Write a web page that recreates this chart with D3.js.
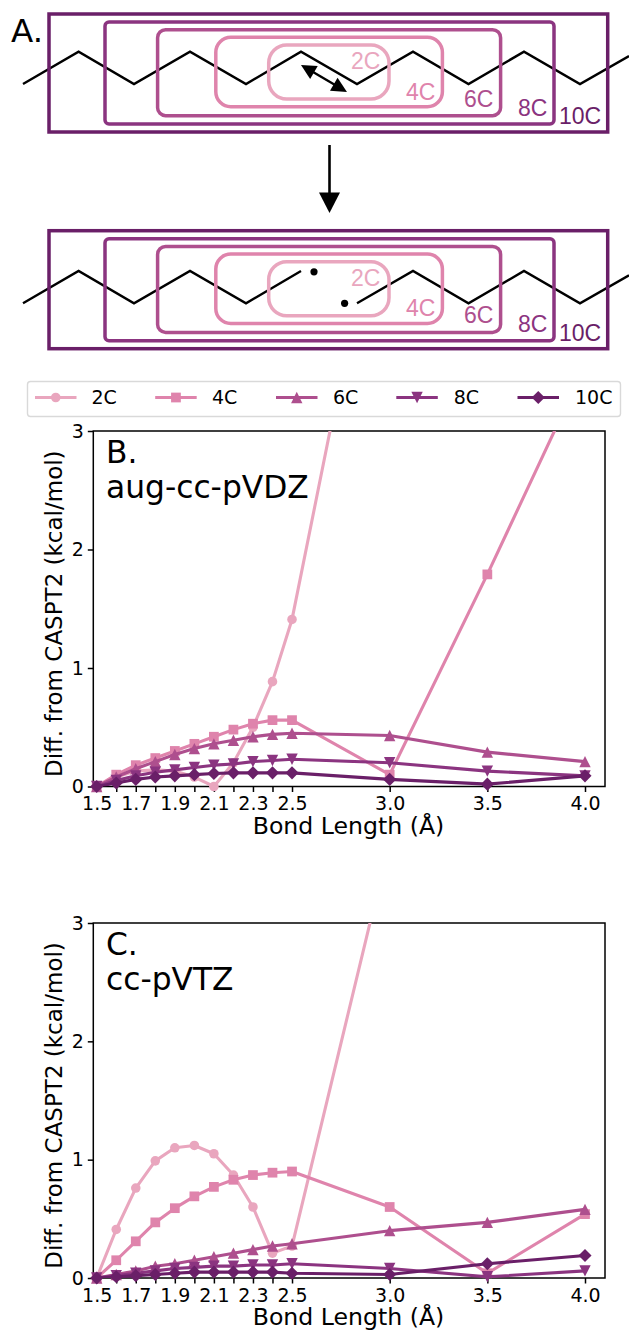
<!DOCTYPE html>
<html><head><meta charset="utf-8">
<style>html,body{margin:0;padding:0;background:#fff}svg{display:block}text{font-family:"DejaVu Sans",sans-serif;fill:#000}</style>
<script src="https://cdnjs.cloudflare.com/ajax/libs/d3/7.8.5/d3.min.js"></script>
</head><body><svg id="c" width="629" height="1332"></svg>
<script>
const bondLengths=[1.5,1.6,1.7,1.8,1.9,2.0,2.1,2.2,2.3,2.4,2.5,3.0,3.5,4.0];
const xTickLabels=[1.5,1.7,1.9,2.1,2.3,2.5,3.0,3.5,4.0];
const yTicks=[0,1,2,3];
const seriesNames=["2C","4C","6C","8C","10C"];
const seriesColors=["#e9a6be","#df84ac","#ae4f8e","#8b3480","#6a1f68"];
const b2C=[0,.08,.13,.14,.13,.08,0,.2,.5,.885,1.41,5.5,9,12];
const b4C=[0,.1,.18,.24,.3,.36,.42,.48,.53,.56,.56,.1,1.79,3.55];
const b6C=[0,.08,.15,.21,.27,.32,.36,.39,.42,.44,.45,.43,.29,.21];
const b8C=[0,.05,.09,.12,.14,.16,.18,.19,.21,.22,.23,.2,.13,.09];
const b10C=[0,.03,.06,.08,.09,.1,.11,.115,.115,.115,.115,.06,.02,.09];
const c2C=[0,.41,.76,.99,1.1,1.12,1.05,.87,.6,.21,.27,3.69,6,8];
const c4C=[0,.15,.31,.47,.59,.69,.77,.83,.87,.89,.9,.6,.04,.54];
const c6C=[0,.03,.06,.1,.12,.15,.18,.21,.24,.27,.29,.4,.47,.58];
const c8C=[0,.02,.04,.06,.08,.09,.1,.1,.11,.11,.12,.08,.01,.06];
const c10C=[0,.01,.02,.03,.04,.05,.05,.05,.05,.05,.04,.03,.12,.19];

const svg=d3.select("#c");
const sym=f=>({draw(ctx,s){const r=Math.sqrt(s)/2;f(ctx,r);}});
const poly=(ctx,pts)=>{pts.forEach((p,i)=>i?ctx.lineTo(p[0],p[1]):ctx.moveTo(p[0],p[1]));ctx.closePath();};
const shapes=[
 d3.symbolCircle,
 d3.symbolSquare,
 sym((c,r)=>poly(c,[[0,-r],[r,r],[-r,r]])),
 sym((c,r)=>poly(c,[[0,r],[r,-r],[-r,-r]])),
 sym((c,r)=>poly(c,[[0,-r*1.42],[r*1.42,0],[0,r*1.42],[-r*1.42,0]]))
];
const sizes=[72,95,130,130,85];
const symPath=i=>d3.symbol().type(shapes[i]).size(sizes[i])();

// Panels
function panel(id,top,bottom,title,data){
  const x=d3.scaleLinear().domain([1.5,4.0]).range([96.7,585]);
  const y=d3.scaleLinear().domain([0,3]).range([bottom,top]);
  const L=93.3,R=605;
  const g=svg.append("g");
  g.append("clipPath").attr("id",id).append("rect").attr("x",L).attr("y",top).attr("width",R-L).attr("height",bottom-top);
  const ax=d3.axisBottom(x).tickValues(bondLengths).tickSize(5.5).tickPadding(5)
    .tickFormat(d=>xTickLabels.includes(d)?d.toFixed(1):"");
  const gx=g.append("g").attr("transform",`translate(0,${bottom})`).call(ax);
  const ay=d3.axisLeft(y).tickValues(yTicks).tickSize(5.5).tickPadding(4).tickFormat(d3.format("d"));
  const gy=g.append("g").attr("transform",`translate(${L},0)`).call(ay);
  [gx,gy].forEach(a=>{a.select(".domain").remove();a.selectAll("line").attr("stroke","#000").attr("stroke-width",1.5);
    a.selectAll("text").attr("font-size",19).attr("font-family","DejaVu Sans").attr("fill","#000");});
  g.append("rect").attr("x",L).attr("y",top).attr("width",R-L).attr("height",bottom-top).attr("fill","none").attr("stroke","#000").attr("stroke-width",1.5);
  const line=d3.line().x((d,i)=>x(bondLengths[i])).y(d=>y(d));
  data.forEach((vals,i)=>{
    g.append("path").attr("d",line(vals)).attr("fill","none").attr("stroke",seriesColors[i]).attr("stroke-width",3.1).attr("stroke-linejoin","round").attr("clip-path",`url(#${id})`);
    g.selectAll(null).data(vals.map((v,k)=>[bondLengths[k],v]).filter(d=>d[1]<=3)).join("path")
      .attr("d",symPath(i)).attr("fill",seriesColors[i]).attr("transform",d=>`translate(${x(d[0])},${y(d[1])})`);
  });
  g.append("text").attr("x",348.5).attr("y",bottom+47).attr("text-anchor","middle").attr("font-size",23.6).text("Bond Length (Å)");
  g.append("text").attr("transform",`translate(61.5,${(top+bottom)/2+5}) rotate(-90)`).attr("text-anchor","middle").attr("font-size",23).text("Diff. from CASPT2 (kcal/mol)");
  title.forEach((t,i)=>g.append("text").attr("x",106).attr("y",top+32+i*35).attr("font-size",31.3).text(t));
}
panel("cb",431,786.5,["B.","aug-cc-pVDZ"],[b2C,b4C,b6C,b8C,b10C]);
panel("cc",923,1278,["C.","cc-pVTZ"],[c2C,c4C,c6C,c8C,c10C]);

// Legend
const legendHandleX=[35,155.2,276,396.3,517.5];
const legendTextX=[91.5,212,333,453.7,575];
svg.append("rect").attr("x",27.5).attr("y",381.5).attr("width",593).attr("height",35).attr("rx",3).attr("fill","#fff").attr("stroke","#d9d9d9").attr("stroke-width",1.4);
seriesNames.forEach((n,i)=>{
  const h=svg.append("g").attr("transform",`translate(${legendHandleX[i]},397.5)`);
  h.append("line").attr("x2",41.5).attr("stroke",seriesColors[i]).attr("stroke-width",3.1);
  h.append("path").attr("d",symPath(i)).attr("transform","translate(20.75,0)").attr("fill",seriesColors[i]);
  svg.append("text").attr("x",legendTextX[i]).attr("y",404).attr("font-size",19).text(n);
});

// Schematic (panel A)
const boxX0=[268.7,215.8,157.6,105,49];
const boxX1=[389,442.4,500.6,554,607.7];
const boxY0=[45,37.3,29.7,22,14];
const boxY1=[99,106.7,115.7,124,132];
const boxR=[18,15,8,4,0];
const labelX=[351,406,464,518,559];
const labelY=[69.3,99.5,106.7,115.7,124.3];
const zigX=[23,78.6,134,190,246,301,357,413,468.5,524,580,629];
const zigY=[84,51.7,84,51.7,84,51.7,84,51.7,84,51.7,84,56];
function schematic(dy,zdy,broken){
  const g=svg.append("g");
  const l=d3.line();
  const pts=zigX.map((v,i)=>[v,zigY[i]+zdy]);
  if(broken){
    g.append("path").attr("d",l(pts.slice(0,6))).attr("fill","none").attr("stroke","#000").attr("stroke-width",2.4);
    g.append("path").attr("d",l(pts.slice(6))).attr("fill","none").attr("stroke","#000").attr("stroke-width",2.4);
    [[314,52.5],[344.6,84]].forEach(p=>g.append("circle").attr("cx",p[0]).attr("cy",p[1]+zdy).attr("r",3.6).attr("fill","#000"));
  } else {
    g.append("path").attr("d",l(pts)).attr("fill","none").attr("stroke","#000").attr("stroke-width",2.4);
  }
  seriesNames.forEach((n,i)=>{
    g.append("rect").attr("x",boxX0[i]).attr("y",boxY0[i]+dy).attr("width",boxX1[i]-boxX0[i]).attr("height",boxY1[i]-boxY0[i])
      .attr("rx",boxR[i]).attr("fill","none").attr("stroke",seriesColors[i]).attr("stroke-width",3.5);
    g.append("text").attr("x",labelX[i]).attr("y",labelY[i]+dy).style("font-family","Liberation Sans").style("fill",seriesColors[i]).attr("font-size",23).text(n);
  });
}
schematic(0,0,false);
schematic(216.7,219.3,true);
svg.append("text").attr("x",11).attr("y",42).attr("font-size",32.5).text("A.");
// double arrow
const ang=Math.atan2(27,46);
const dbl=svg.append("g").attr("transform",`translate(301,65) rotate(${ang*180/Math.PI})`);
dbl.append("line").attr("x1",8).attr("x2",46).attr("stroke","#000").attr("stroke-width",2.4);
dbl.append("path").attr("d","M0,0L15,-7.5L15,7.5Z");
dbl.append("path").attr("d","M53.3,0L38,-7.5L38,7.5Z");
// reaction arrow
svg.append("line").attr("x1",329.5).attr("x2",329.5).attr("y1",145).attr("y2",195).attr("stroke","#000").attr("stroke-width",2.6);
svg.append("path").attr("d","M329.5,213L319,192.5L340,192.5Z");
</script></body></html>
